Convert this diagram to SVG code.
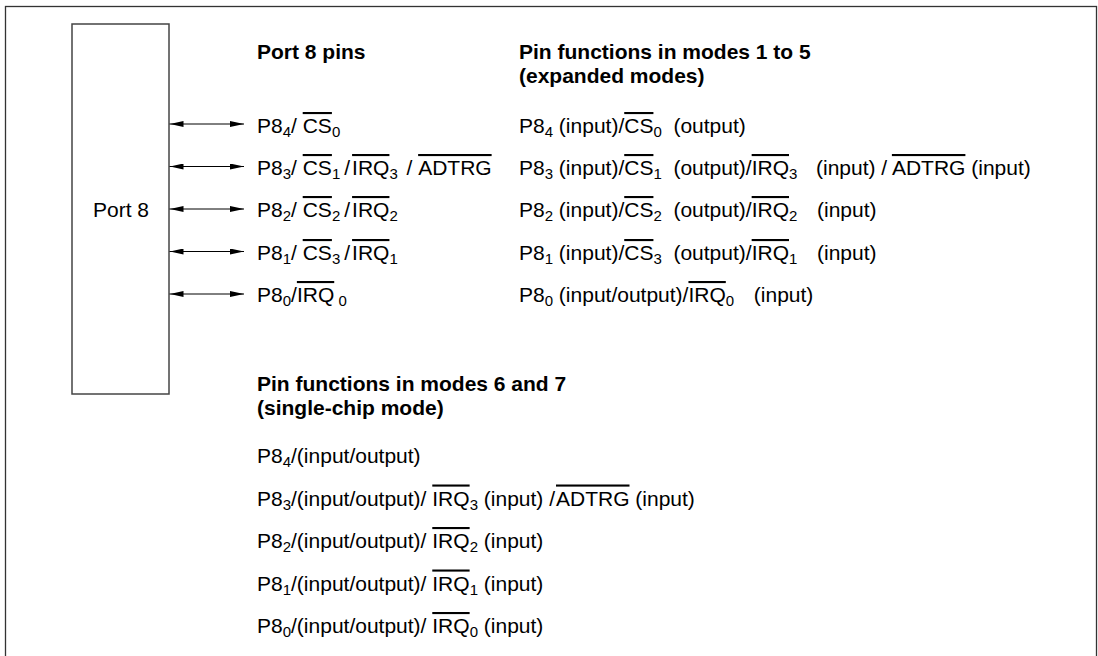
<svg xmlns="http://www.w3.org/2000/svg" width="1098" height="656" viewBox="0 0 1098 656">
<style>
.t{font-family:"Liberation Sans",Arial,Helvetica,sans-serif;font-size:21px;fill:#000}
.b{font-weight:bold}
.s{font-size:15px}
.o{text-decoration:overline}
.frame{fill:none;stroke:#333;stroke-width:1.3}
.box{fill:#fff;stroke:#444;stroke-width:1.5}
.con{stroke:#000;stroke-width:1;fill:none;marker-start:url(#ah);marker-end:url(#ah)}
</style>
<defs>
<marker id="ah" markerUnits="userSpaceOnUse" markerWidth="14" markerHeight="6" refX="14" refY="3" orient="auto-start-reverse">
<path d="M0,0 L14,3 L0,6 z" fill="#000"/>
</marker>
</defs>
<rect class="frame" x="5.5" y="6.5" width="1091" height="700"/>

<g id="port8">
<rect class="box" x="72" y="24" width="97" height="370"/>
<text class="t" x="121" y="217" text-anchor="middle">Port 8</text>
</g>

<g id="connectors">
<line class="con" x1="169.5" y1="124" x2="244" y2="124"/>
<line class="con" x1="169.5" y1="166.5" x2="244" y2="166.5"/>
<line class="con" x1="169.5" y1="209" x2="244" y2="209"/>
<line class="con" x1="169.5" y1="251.5" x2="244" y2="251.5"/>
<line class="con" x1="169.5" y1="294" x2="244" y2="294"/>
</g>

<g id="headers">
<text class="t b" x="257" y="59">Port 8 pins</text>
<text class="t b" x="519" y="59">Pin functions in modes 1 to 5</text>
<text class="t b" x="519" y="83">(expanded modes)</text>
<text class="t b" x="257" y="391">Pin functions in modes 6 and 7</text>
<text class="t b" x="257" y="415">(single-chip mode)</text>
</g>

<g id="pin-p84">
<text class="t" x="257" y="133" xml:space="preserve">P8<tspan class="s" dy="4">4</tspan><tspan dy="-4">/ </tspan><tspan class="o">CS</tspan><tspan class="s" dy="4">0</tspan></text>
</g>
<g id="pin-p83">
<text class="t" x="257" y="175" xml:space="preserve">P8<tspan class="s" dy="4">3</tspan><tspan dy="-4">/ </tspan><tspan class="o">CS</tspan><tspan class="s" dy="4">1</tspan><tspan dy="-4" dx="4">/</tspan><tspan class="o" dx="2">IRQ</tspan><tspan class="s" dy="4">3</tspan><tspan dy="-4" dx="3"> / </tspan><tspan class="o" dx="1">ADTRG</tspan></text>
</g>
<g id="pin-p82">
<text class="t" x="257" y="217" xml:space="preserve">P8<tspan class="s" dy="4">2</tspan><tspan dy="-4">/ </tspan><tspan class="o">CS</tspan><tspan class="s" dy="4">2</tspan><tspan dy="-4" dx="4">/</tspan><tspan class="o" dx="2">IRQ</tspan><tspan class="s" dy="4">2</tspan></text>
</g>
<g id="pin-p81">
<text class="t" x="257" y="260" xml:space="preserve">P8<tspan class="s" dy="4">1</tspan><tspan dy="-4">/ </tspan><tspan class="o">CS</tspan><tspan class="s" dy="4">3</tspan><tspan dy="-4" dx="4">/</tspan><tspan class="o" dx="2">IRQ</tspan><tspan class="s" dy="4">1</tspan></text>
</g>
<g id="pin-p80">
<text class="t" x="257" y="302" xml:space="preserve">P8<tspan class="s" dy="4">0</tspan><tspan dy="-4">/</tspan><tspan class="o">IRQ</tspan><tspan class="s" dy="4"> 0</tspan></text>
</g>

<g id="modes-1-5">
<text class="t" x="519" y="133" xml:space="preserve">P8<tspan class="s" dy="4">4</tspan><tspan dy="-4"> (input)/</tspan><tspan class="o">CS</tspan><tspan class="s" dy="4">0</tspan><tspan dy="-4">  (output)</tspan></text>
<text class="t" x="519" y="175" xml:space="preserve">P8<tspan class="s" dy="4">3</tspan><tspan dy="-4"> (input)/</tspan><tspan class="o">CS</tspan><tspan class="s" dy="4">1</tspan><tspan dy="-4">  (output)/</tspan><tspan class="o">IRQ</tspan><tspan class="s" dy="4">3</tspan><tspan dy="-4" dx="7">  (input) / </tspan><tspan class="o">ADTRG</tspan><tspan> (input)</tspan></text>
<text class="t" x="519" y="217" xml:space="preserve">P8<tspan class="s" dy="4">2</tspan><tspan dy="-4"> (input)/</tspan><tspan class="o">CS</tspan><tspan class="s" dy="4">2</tspan><tspan dy="-4">  (output)/</tspan><tspan class="o">IRQ</tspan><tspan class="s" dy="4">2</tspan><tspan dy="-4" dx="8">  (input)</tspan></text>
<text class="t" x="519" y="260" xml:space="preserve">P8<tspan class="s" dy="4">1</tspan><tspan dy="-4"> (input)/</tspan><tspan class="o">CS</tspan><tspan class="s" dy="4">3</tspan><tspan dy="-4">  (output)/</tspan><tspan class="o">IRQ</tspan><tspan class="s" dy="4">1</tspan><tspan dy="-4" dx="8">  (input)</tspan></text>
<text class="t" x="519" y="302" xml:space="preserve">P8<tspan class="s" dy="4">0</tspan><tspan dy="-4"> (input/output)/</tspan><tspan class="o">IRQ</tspan><tspan class="s" dy="4">0</tspan><tspan dy="-4" dx="8">  (input)</tspan></text>
</g>

<g id="modes-6-7">
<text class="t" x="257" y="463">P8<tspan class="s" dy="4">4</tspan><tspan dy="-4">/(input/output)</tspan></text>
<text class="t" x="257" y="505.5" xml:space="preserve">P8<tspan class="s" dy="4">3</tspan><tspan dy="-4">/(input/output)/ </tspan><tspan class="o">IRQ</tspan><tspan class="s" dy="4">3</tspan><tspan dy="-4"> (input) /</tspan><tspan class="o" dx="1">ADTRG</tspan><tspan> (input)</tspan></text>
<text class="t" x="257" y="548" xml:space="preserve">P8<tspan class="s" dy="4">2</tspan><tspan dy="-4">/(input/output)/ </tspan><tspan class="o">IRQ</tspan><tspan class="s" dy="4">2</tspan><tspan dy="-4"> (input)</tspan></text>
<text class="t" x="257" y="590.5" xml:space="preserve">P8<tspan class="s" dy="4">1</tspan><tspan dy="-4">/(input/output)/ </tspan><tspan class="o">IRQ</tspan><tspan class="s" dy="4">1</tspan><tspan dy="-4"> (input)</tspan></text>
<text class="t" x="257" y="633" xml:space="preserve">P8<tspan class="s" dy="4">0</tspan><tspan dy="-4">/(input/output)/ </tspan><tspan class="o">IRQ</tspan><tspan class="s" dy="4">0</tspan><tspan dy="-4"> (input)</tspan></text>
</g>
</svg>
